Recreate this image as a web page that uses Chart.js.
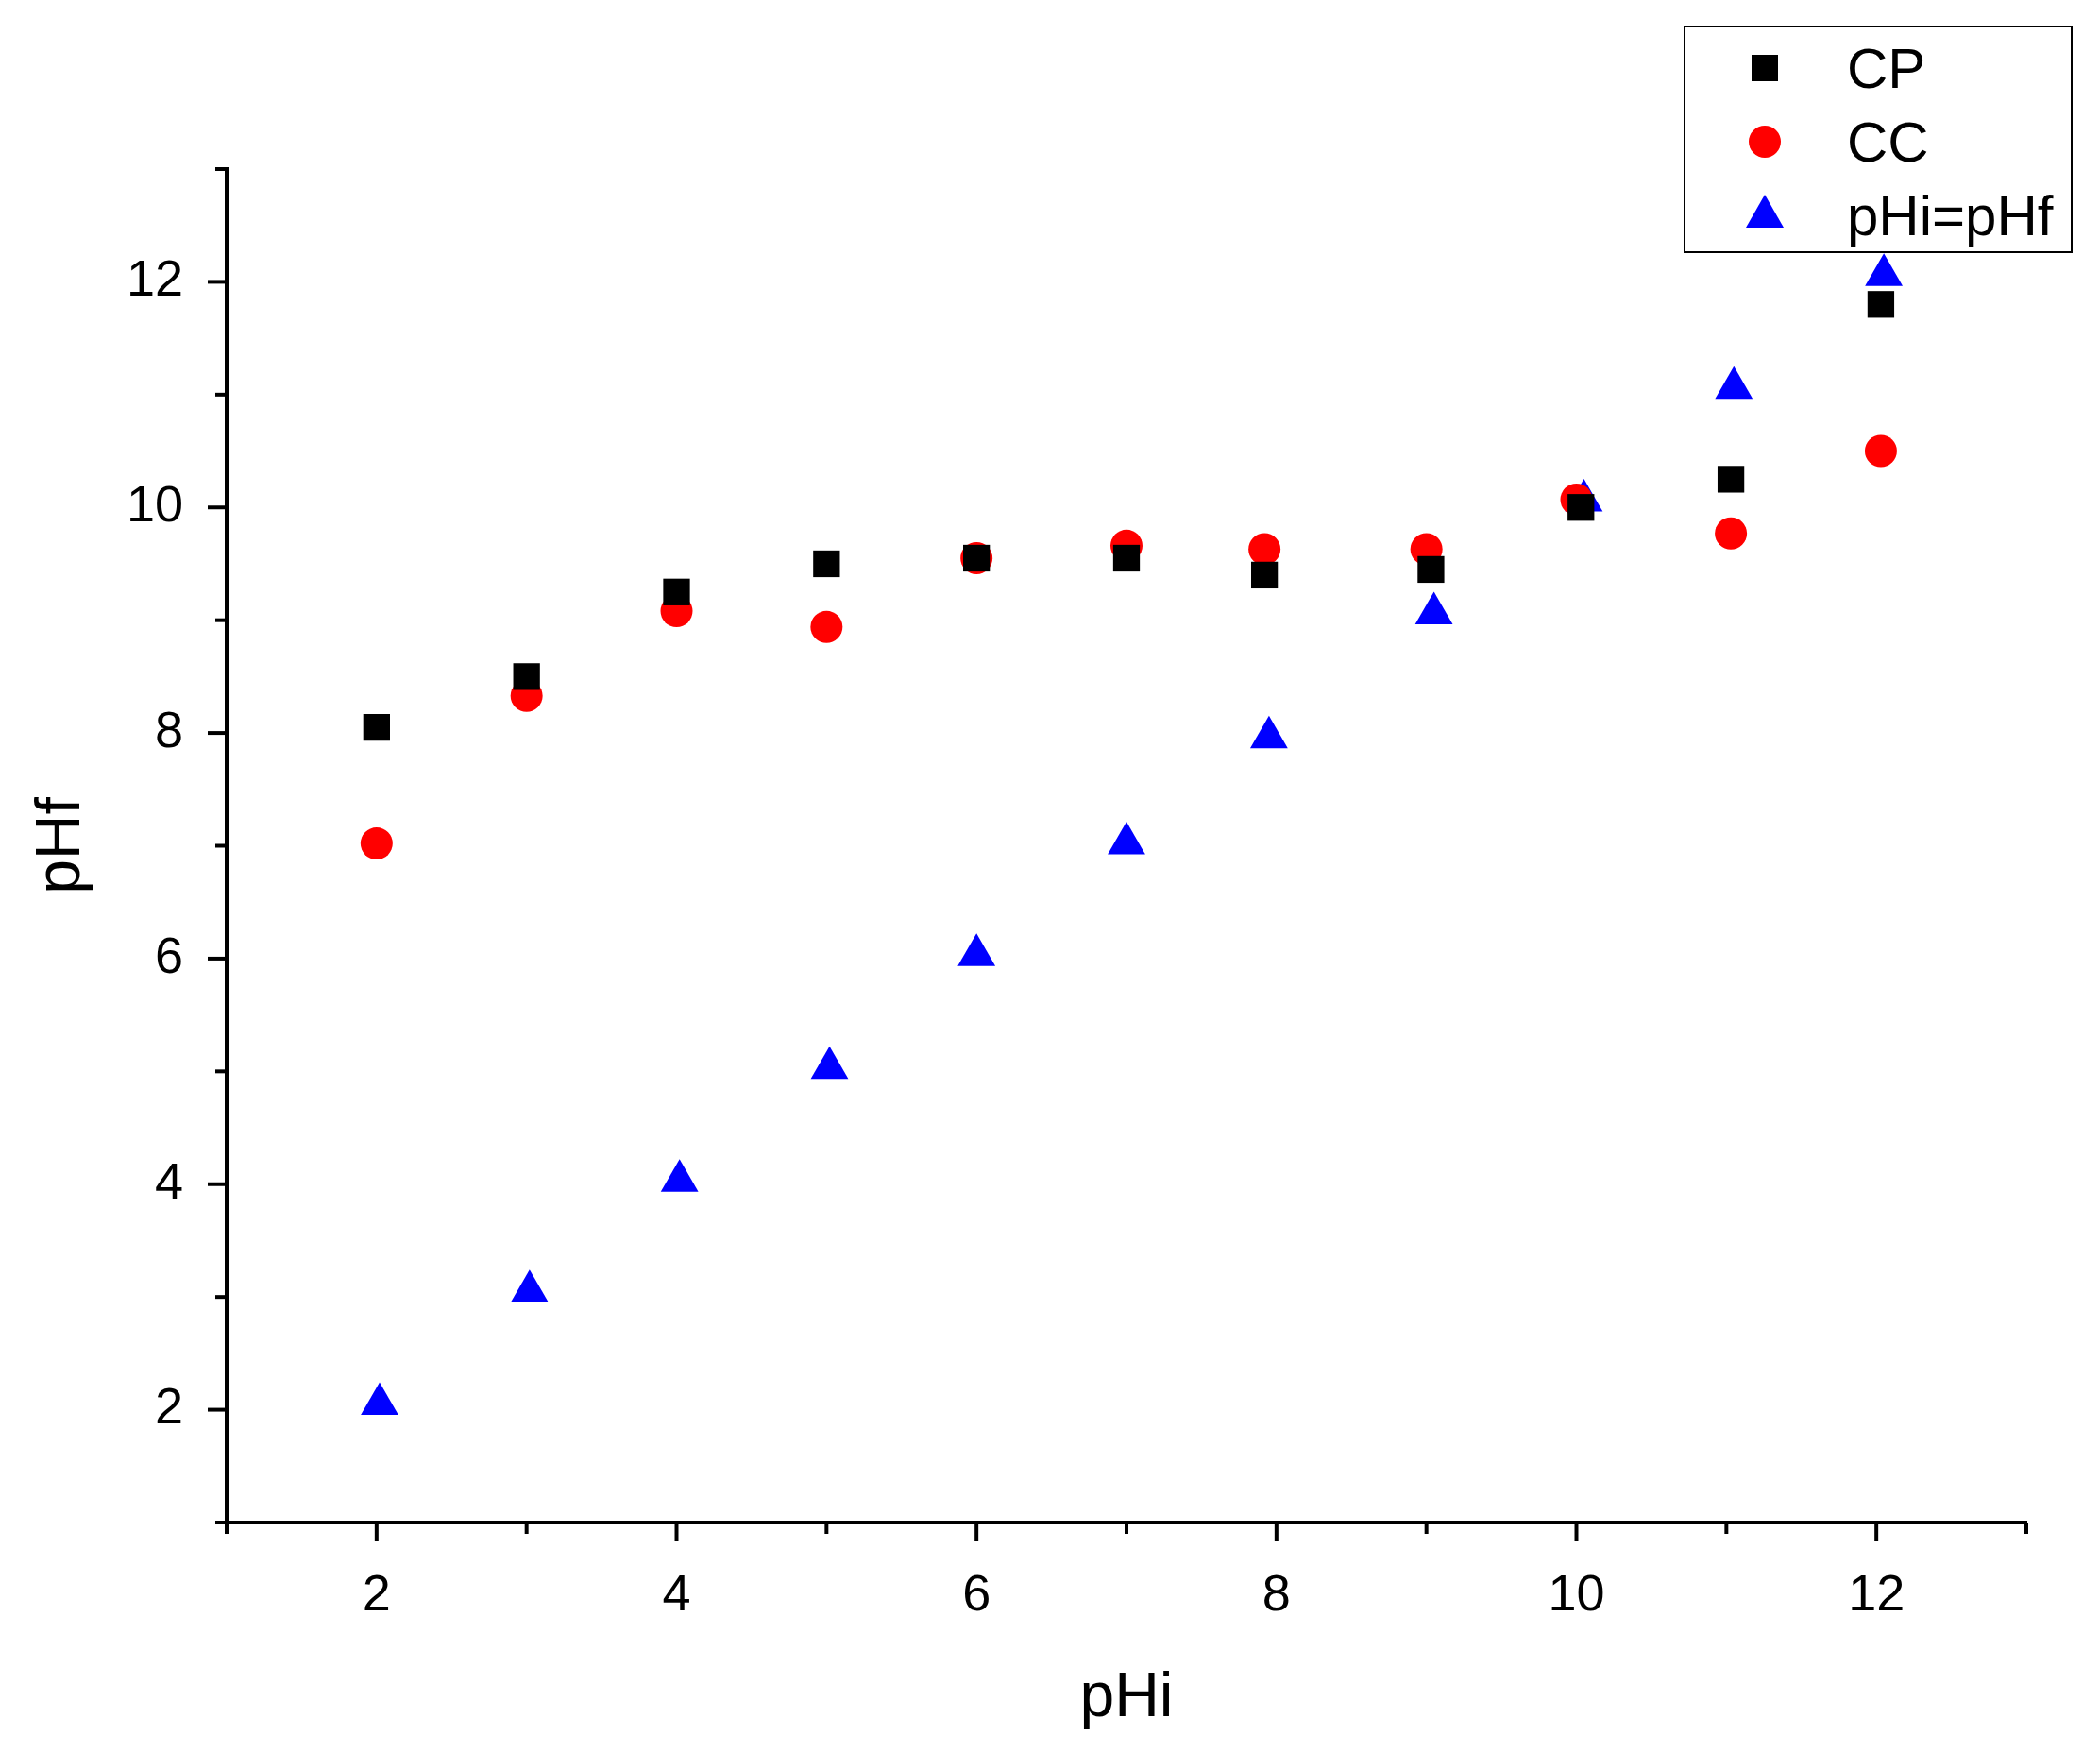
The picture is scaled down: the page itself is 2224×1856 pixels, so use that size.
<!DOCTYPE html>
<html><head><meta charset="utf-8">
<script src="https://cdn.jsdelivr.net/npm/chart.js"></script>
<style>html,body{margin:0;padding:0;background:#fff}#w{width:2224px;height:1856px}</style>
</head><body><div id="w"><canvas id="c"></canvas></div>
<script>
const cpX = [2, 3, 4, 5, 6, 7, 7.92, 9.03, 10.03, 11.03, 12.03];
const cpY = [8.05, 8.5, 9.25, 9.5, 9.55, 9.55, 9.4, 9.45, 10.0, 10.25, 11.8];
const ccX = [2, 3, 4, 5, 6, 7, 7.92, 9.0, 10.0, 11.03, 12.03];
const ccY = [7.02, 8.33, 9.08, 8.94, 9.55, 9.66, 9.63, 9.63, 10.07, 9.77, 10.5];
const idX = [2.02, 3.02, 4.02, 5.02, 6.0, 7.0, 7.95, 9.05, 10.05, 11.05, 12.05];
const idY = [2.05, 3.05, 4.03, 5.03, 6.03, 7.02, 7.96, 9.06, 10.06, 11.06, 12.06];
const names = ['CP', 'CC', 'pHi=pHf'];
const xMin = 1, xMax = 13, yMin = 1, yMax = 13;
const pts = (xs, ys) => xs.map((x, i) => ({x, y: ys[i]}));
const FONT = 'Liberation Sans, Arial, sans-serif';

const tickPlugin = {
  id: 'ticksAndLegend',
  afterDraw(chart) {
    const ctx = chart.ctx, xs = chart.scales.x, ys = chart.scales.y;
    ctx.save();
    ctx.strokeStyle = '#000'; ctx.lineWidth = 4;
    for (let v = xMin; v <= xMax; v++) {
      const p = xs.getPixelForValue(v), L = (v % 2 === 0) ? 20 : 12;
      ctx.beginPath(); ctx.moveTo(p, ys.bottom); ctx.lineTo(p, ys.bottom + L); ctx.stroke();
    }
    for (let v = yMin; v <= yMax; v++) {
      const p = ys.getPixelForValue(v), L = (v % 2 === 0) ? 20 : 12;
      ctx.beginPath(); ctx.moveTo(xs.left, p); ctx.lineTo(xs.left - L, p); ctx.stroke();
    }
    const bx = 1784, by = 28, bw = 410, bh = 239;
    ctx.lineWidth = 2; ctx.strokeRect(bx, by, bw, bh);
    ctx.font = '60px ' + FONT; ctx.fillStyle = '#000'; ctx.textBaseline = 'middle';
    chart.data.datasets.forEach((ds, i) => {
      const cy = by + 44 + i * 78, cx = bx + 85;
      ctx.fillStyle = ds.backgroundColor;
      ctx.beginPath();
      if (ds.pointStyle === 'rect') { ctx.rect(cx - 14, cy - 14, 28, 28); }
      else if (ds.pointStyle === 'circle') { ctx.arc(cx, cy, 17, 0, Math.PI * 2); }
      else { ctx.moveTo(cx, cy - 22); ctx.lineTo(cx + 20, cy + 13); ctx.lineTo(cx - 20, cy + 13); ctx.closePath(); }
      ctx.fill();
      ctx.fillStyle = '#000';
      ctx.fillText(ds.label, bx + 172, cy + 4);
    });
    ctx.restore();
  }
};

new Chart(document.getElementById('c'), {
  type: 'scatter',
  data: { datasets: [
    { label: names[0], data: pts(cpX, cpY), pointStyle: 'rect', pointRadius: 20, backgroundColor: '#000', borderWidth: 0 },
    { label: names[1], data: pts(ccX, ccY), pointStyle: 'circle', pointRadius: 17, backgroundColor: '#ff0000', borderWidth: 0 },
    { label: names[2], data: pts(idX, idY), pointStyle: 'triangle', pointRadius: 23, backgroundColor: '#0000ff', borderWidth: 0 }
  ]},
  options: {
    responsive: true, maintainAspectRatio: false, animation: false,
    layout: { padding: { top: 179, right: 78, left: 0, bottom: 0 } },
    plugins: { legend: { display: false }, tooltip: { enabled: false } },
    scales: {
      x: { type: 'linear', min: xMin, max: xMax,
        afterFit(s) { s.height = 244; },
        grid: { display: false }, border: { display: true, color: '#000', width: 4 },
        ticks: { stepSize: 1, padding: 38, color: '#000', font: { size: 54, family: FONT }, maxRotation: 0,
          callback: v => (v % 2 === 0 ? String(v) : '') },
        title: { display: true, text: 'pHi', color: '#000', font: { size: 66, family: FONT }, padding: { top: 0, bottom: 18 } } },
      y: { type: 'linear', min: yMin, max: yMax,
        afterFit(s) { s.width = 240; },
        grid: { display: false }, border: { display: true, color: '#000', width: 4 },
        ticks: { stepSize: 1, padding: 38, color: '#000', font: { size: 54, family: FONT },
          callback: v => (v % 2 === 0 ? String(v) : '') },
        title: { display: true, text: 'pHf', color: '#000', font: { size: 66, family: FONT }, padding: { top: 26, bottom: 0 } } }
    }
  },
  plugins: [tickPlugin]
});
</script></body></html>
